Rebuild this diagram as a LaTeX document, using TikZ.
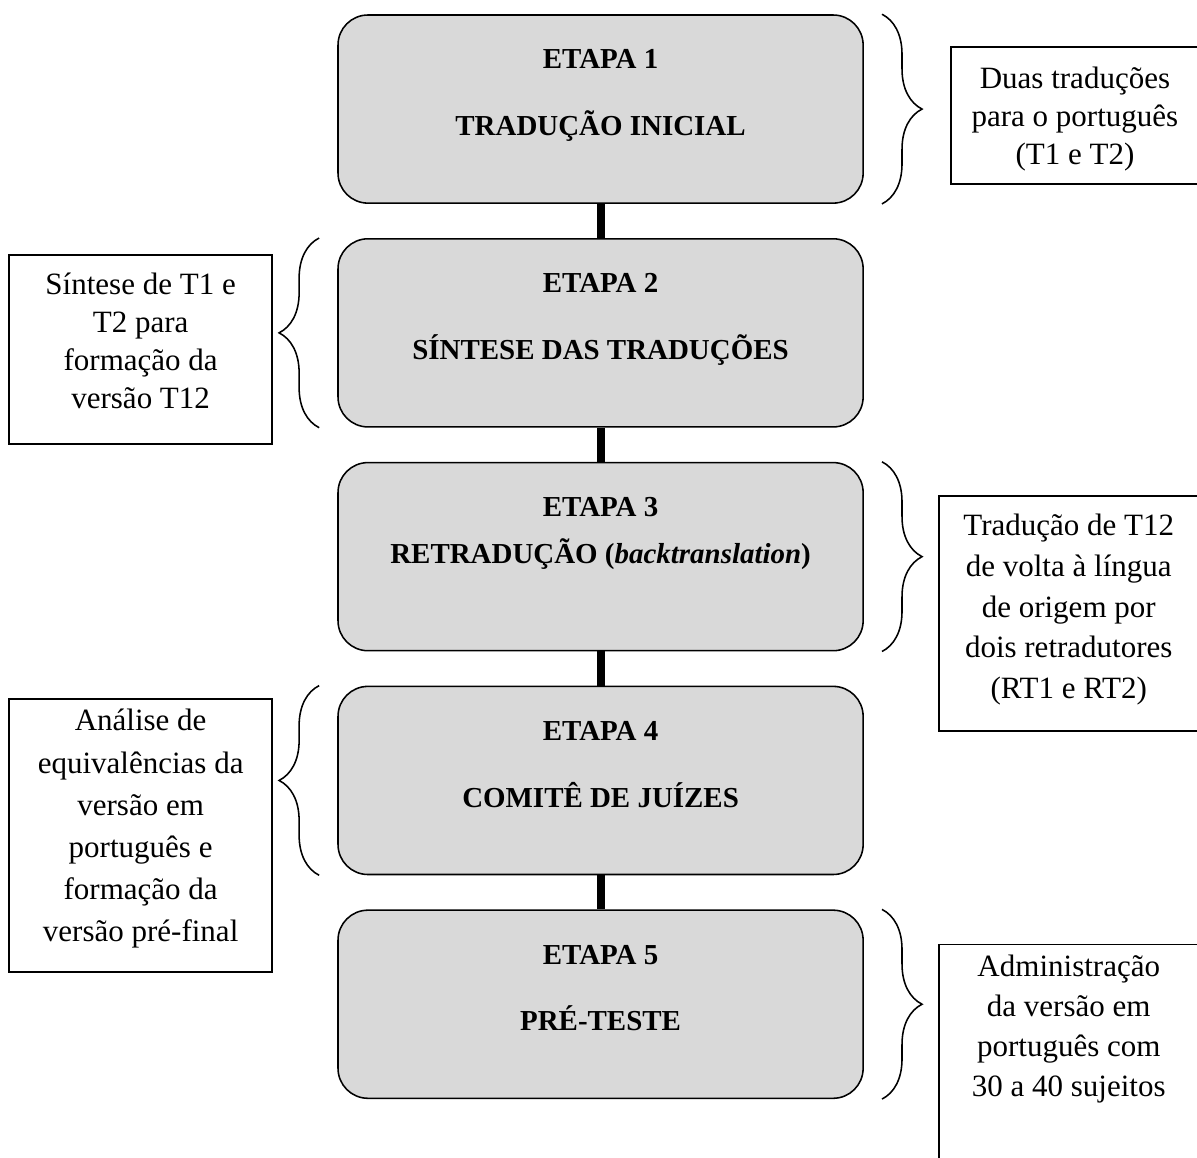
\documentclass[tikz,border=0pt]{standalone}
\usepackage{fontspec}
\setmainfont{Liberation Serif}
\usetikzlibrary{positioning, decorations.pathreplacing}
\definecolor{cinza}{HTML}{D9D9D9}

\begin{document}
\begin{tikzpicture}[
    node distance=13.2pt,
    etapa/.style={rectangle, rounded corners=11.6pt, draw=black, line width=0.6pt, fill=cinza, minimum width=203.2pt, minimum height=72.8pt, font=\fontsize{11.2pt}{25.9pt}\selectfont\bfseries, align=center, text depth=12.6pt},
    nota/.style={rectangle, draw=black, line width=0.75pt, inner ysep=0pt, font=\fontsize{12pt}{#1}\selectfont, align=center},
    barra/.style={line width=3.1pt},
    chave/.style={decorate, decoration={brace, amplitude=15.5pt}, line width=0.6pt}
]
\useasboundingbox (0,0) rectangle (463.2pt,-448.1pt);

% Etapas
\node[etapa] (etapa1) at (232.4pt,-42.2pt) {ETAPA 1\\TRADUÇÃO INICIAL};
\node[etapa, below=of etapa1] (etapa2) {ETAPA 2\\SÍNTESE DAS TRADUÇÕES};
\node[etapa, below=of etapa2, font=\fontsize{11.2pt}{18.2pt}\selectfont\bfseries, text depth=20.3pt] (etapa3) {ETAPA 3\\RETRADUÇÃO (\textit{backtranslation})};
\node[etapa, below=of etapa3] (etapa4) {ETAPA 4\\COMITÊ DE JUÍZES};
\node[etapa, below=of etapa4] (etapa5) {ETAPA 5\\PRÉ-TESTE};

% Notas
\node[nota=14.7pt, right=33.3pt of etapa1, yshift=-2.5pt, minimum width=96pt, minimum height=53pt, text depth=0pt] (nota1) {Duas traduções\\para o português\\(T1 e T2)};
\node[nota=14.7pt, left=24.8pt of etapa2, yshift=-6.4pt, minimum width=101.8pt, minimum height=73.1pt, text depth=6.6pt] (nota2) {Síntese de T1 e\\T2 para\\formação da\\versão T12};
\node[nota=15.8pt, right=28.6pt of etapa3, yshift=-21.9pt, minimum width=100.6pt, minimum height=90.9pt, text depth=5.4pt] (nota3) {Tradução de T12\\de volta à língua\\de origem por\\dois retradutores\\(RT1 e RT2)};
\node[nota=16.3pt, left=24.8pt of etapa4, yshift=-21.4pt, minimum width=101.8pt, minimum height=105.7pt, text depth=8pt] (nota4) {Análise de\\equivalências da\\versão em\\português e\\formação da\\versão pré-final};
\node[nota=15.5pt, right=28.6pt of etapa5.north east, anchor=north west, yshift=-13.2pt, minimum width=100.6pt, minimum height=100.6pt] (nota5) {};
\node[font=\fontsize{12pt}{15.5pt}\selectfont, align=center, inner sep=0pt, anchor=north] (nota5texto) at ([yshift=-4.3pt]nota5.north) {Administração\\da versão em\\português com\\30 a 40 sujeitos};

% Barras
\draw[barra] (etapa1) -- (etapa2);
\draw[barra] (etapa2) -- (etapa3);
\draw[barra] (etapa3) -- (etapa4);
\draw[barra] (etapa4) -- (etapa5);

% Chaves
\draw[chave] ([xshift=7pt]etapa1.north east) -- ([xshift=7pt]etapa1.south east);
\draw[chave] ([xshift=-7pt]etapa2.south west) -- ([xshift=-7pt]etapa2.north west);
\draw[chave] ([xshift=7pt]etapa3.north east) -- ([xshift=7pt]etapa3.south east);
\draw[chave] ([xshift=-7pt]etapa4.south west) -- ([xshift=-7pt]etapa4.north west);
\draw[chave] ([xshift=7pt]etapa5.north east) -- ([xshift=7pt]etapa5.south east);

\end{tikzpicture}
\end{document}
